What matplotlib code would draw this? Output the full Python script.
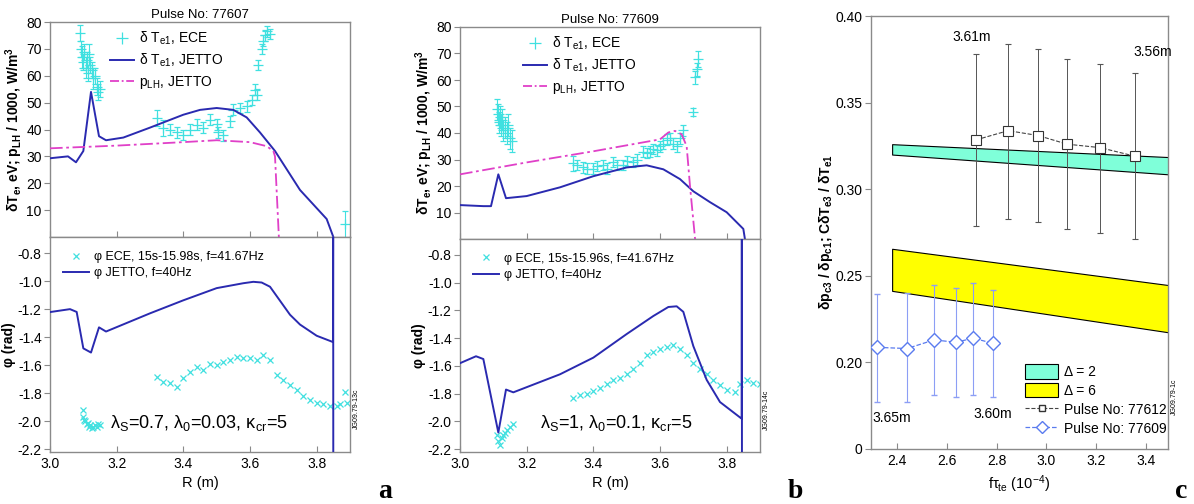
import matplotlib
matplotlib.use('Agg')
import matplotlib.pyplot as plt
from matplotlib.patches import Patch
from matplotlib.lines import Line2D

plt.rcParams['font.family'] = ['Liberation Sans', 'DejaVu Sans']
plt.rcParams['mathtext.default'] = 'regular'
plt.rcParams['axes.linewidth'] = 1.0

ECE_C = '#40E0E0'
JET_C = '#2A2AB0'
PLH_C = '#E040C8'
GRAY = '#8a8a8a'

# ---------------- Panel a (Pulse 77607) ----------------
a_jet_R = [3.0, 3.054, 3.078, 3.10, 3.123, 3.147, 3.168, 3.22, 3.30, 3.40, 3.45, 3.50, 3.55, 3.59, 3.63, 3.675, 3.75, 3.83, 3.853]
a_jet_T = [29.3, 30.0, 27.8, 32.0, 54.0, 37.5, 36.0, 37.0, 40.7, 45.5, 47.3, 48.0, 47.3, 44.5, 38.9, 32.0, 17.5, 6.7, -1.0]

a_plh_R = [3.0, 3.10, 3.20, 3.40, 3.50, 3.60, 3.65, 3.67, 3.675, 3.687]
a_plh_P = [33.0, 33.5, 34.0, 35.3, 36.0, 35.3, 33.8, 32.0, 30.0, -1.0]

a_ece_R = [3.090, 3.093, 3.097, 3.100, 3.103, 3.107, 3.110, 3.113, 3.117, 3.120, 3.125, 3.130, 3.135, 3.140, 3.145, 3.150,
           3.32, 3.34, 3.36, 3.38, 3.40, 3.42, 3.44, 3.46, 3.48, 3.50, 3.505, 3.52, 3.54,
           3.55, 3.57, 3.59, 3.605, 3.615, 3.62, 3.625, 3.635, 3.64, 3.645, 3.65, 3.66, 3.885]
a_ece_T = [76, 70, 67, 65, 69, 63, 66, 61, 68, 64, 62, 59, 60, 56, 54, 55,
           44.4, 40.7, 40.0, 39.0, 38.0, 40.0, 41.8, 40.7, 43.7, 41.9, 38.9, 37.8, 43.0,
           47.4, 48.0, 48.6, 51.0, 54.8, 53.0, 64.0, 70.0, 73.0, 75.0, 76.5, 75.5, 4.8]
a_ece_E = [3, 3, 4, 3, 3, 4, 3, 3, 4, 3, 3, 4, 3, 3, 3, 3,
           3, 3, 2, 2, 2, 2, 2, 2, 2, 2, 2, 2, 2,
           2, 2, 2, 2, 2, 2, 2, 2, 2, 2, 2, 2, 5]

a_phi_R = [3.0, 3.04, 3.06, 3.08, 3.10, 3.123, 3.147, 3.168, 3.30, 3.40, 3.50, 3.58, 3.61, 3.635, 3.66, 3.69, 3.72, 3.75, 3.80, 3.849, 3.8495, 3.850]
a_phi_V = [-1.221, -1.207, -1.20, -1.22, -1.48, -1.51, -1.33, -1.36, -1.23, -1.137, -1.05, -1.015, -1.005, -1.01, -1.04, -1.14, -1.24, -1.31, -1.39, -1.435, -0.5, -3.0]

a_phe_R = [3.098, 3.100, 3.103, 3.106, 3.110, 3.113, 3.117, 3.120, 3.125, 3.130, 3.135, 3.140, 3.145, 3.150,
           3.32, 3.34, 3.36, 3.38, 3.40, 3.42, 3.44, 3.46, 3.48, 3.50, 3.52, 3.54, 3.56, 3.58, 3.60, 3.62, 3.64, 3.66,
           3.68, 3.70, 3.72, 3.74, 3.76, 3.78, 3.80, 3.82, 3.84, 3.86, 3.87, 3.885, 3.89]
a_phe_V = [-1.92, -1.97, -1.99, -2.00, -2.02, -2.01, -2.04, -2.03, -2.05, -2.04, -2.03, -2.04, -2.02, -2.03,
           -1.684, -1.72, -1.73, -1.755, -1.69, -1.65, -1.61, -1.636, -1.59, -1.60, -1.576, -1.565, -1.54, -1.55, -1.55, -1.565, -1.53, -1.565,
           -1.67, -1.707, -1.74, -1.78, -1.82, -1.85, -1.87, -1.88, -1.895, -1.89, -1.88, -1.79, -1.87]

# ---------------- Panel b (Pulse 77609) ----------------
b_jet_R = [3.0, 3.07, 3.093, 3.115, 3.138, 3.20, 3.30, 3.40, 3.50, 3.56, 3.61, 3.66, 3.70, 3.75, 3.80, 3.85, 3.856]
b_jet_T = [12.8, 12.4, 12.4, 24.4, 15.4, 16.2, 19.5, 23.7, 27.0, 27.8, 26.3, 22.6, 18.0, 13.9, 10.1, 3.8, -1.0]

b_plh_R = [3.0, 3.20, 3.40, 3.60, 3.625, 3.645, 3.665, 3.68, 3.69, 3.706]
b_plh_P = [24.4, 28.9, 33.1, 37.6, 40.2, 40.8, 39.5, 35.0, 20.0, -1.0]

b_ece_R = [3.110, 3.113, 3.117, 3.120, 3.123, 3.127, 3.130, 3.135, 3.140, 3.145, 3.150, 3.155,
           3.34, 3.35, 3.37, 3.38, 3.40, 3.41, 3.43, 3.44, 3.46, 3.47, 3.49, 3.50, 3.52, 3.53,
           3.55, 3.56, 3.57, 3.58, 3.59, 3.60, 3.61, 3.62, 3.63, 3.64, 3.65, 3.66, 3.67,
           3.70, 3.705, 3.71, 3.715]
b_ece_T = [49, 47, 44, 46, 43, 45, 41, 42, 40, 43, 38, 37,
           28.5, 28.0, 27.0, 26.5, 26.5, 27.5, 28.0, 26.5, 29.0, 28.0, 28.0, 29.5, 29.0, 30.0,
           33.0, 32.5, 33.0, 34.0, 33.5, 35.0, 36.0, 37.5, 38.0, 36.0, 35.0, 38.0, 41.0,
           48.0, 61.0, 64.0, 68.0]
b_ece_E = [4, 4, 4, 4, 4, 4, 4, 4, 4, 4, 4, 4,
           3, 2, 2, 2, 2, 2, 2, 2, 2, 2, 2, 2, 2, 2,
           2, 2, 2, 2, 2, 2, 2, 2, 2, 2, 2, 2, 2,
           1.5, 2.5, 2.5, 3]

b_phi_R = [3.0, 3.048, 3.07, 3.115, 3.138, 3.16, 3.30, 3.40, 3.50, 3.58, 3.625, 3.65, 3.67, 3.70, 3.74, 3.78, 3.845, 3.8455, 3.846]
b_phi_V = [-1.58, -1.53, -1.55, -2.08, -1.77, -1.79, -1.66, -1.54, -1.37, -1.24, -1.175, -1.17, -1.21, -1.457, -1.70, -1.86, -1.98, -0.5, -3.0]

b_phe_R = [3.11, 3.115, 3.12, 3.125, 3.13, 3.135, 3.14, 3.15, 3.16,
           3.34, 3.36, 3.38, 3.40, 3.42, 3.44, 3.46, 3.48, 3.50, 3.52, 3.54, 3.56, 3.58, 3.60, 3.62, 3.64,
           3.66, 3.68, 3.70, 3.72, 3.74, 3.76, 3.78, 3.80, 3.825, 3.84, 3.86, 3.88, 3.90]
b_phe_V = [-2.10, -2.14, -2.17, -2.12, -2.10, -2.08, -2.06, -2.04, -2.02,
           -1.83, -1.81, -1.80, -1.78, -1.76, -1.73, -1.70, -1.69, -1.66, -1.62, -1.58, -1.52, -1.50, -1.48, -1.46, -1.45,
           -1.48, -1.52, -1.58, -1.62, -1.66, -1.70, -1.74, -1.77, -1.79, -1.73, -1.70, -1.72, -1.73]

# ---------------- Panel c ----------------
band_x = [2.38, 3.50]
d2_hi = [0.326, 0.3185]
d2_lo = [0.320, 0.3085]
d6_hi = [0.2656, 0.2445]
d6_lo = [0.2413, 0.2172]

p612_x = [2.718, 2.847, 2.967, 3.084, 3.217, 3.358]
p612_y = [0.3285, 0.3338, 0.331, 0.326, 0.324, 0.319]
p612_lo = [0.2786, 0.283, 0.281, 0.277, 0.275, 0.2715]
p612_hi = [0.378, 0.384, 0.381, 0.375, 0.3725, 0.367]

p609_x = [2.32, 2.44, 2.549, 2.637, 2.706, 2.786]
p609_y = [0.2087, 0.208, 0.213, 0.2116, 0.214, 0.211]
p609_lo = [0.177, 0.177, 0.181, 0.180, 0.181, 0.180]
p609_hi = [0.2396, 0.240, 0.2448, 0.243, 0.246, 0.242]

c_yticks = [0.15, 0.20, 0.25, 0.30, 0.35, 0.40]
c_yticklabels = ['0', '0.20', '0.25', '0.30', '0.35', '0.40']
c_xticks = [2.4, 2.6, 2.8, 3.0, 3.2, 3.4]

R_ticks = [3.0, 3.2, 3.4, 3.6, 3.8]
T_ticks = [10, 20, 30, 40, 50, 60, 70, 80]
phi_ticks = [-0.8, -1.0, -1.2, -1.4, -1.6, -1.8, -2.0, -2.2]

W, H = 1194, 504
fig = plt.figure(figsize=(W / 100, H / 100), dpi=100)


def fr(x0, y0, x1, y1):
    return [x0 / W, 1 - y1 / H, (x1 - x0) / W, (y1 - y0) / H]


def style(ax):
    for s in ax.spines.values():
        s.set_color(GRAY)
    ax.tick_params(axis='x', direction='in', colors=GRAY, labelcolor='black', labelsize=10, length=4)
    ax.tick_params(axis='y', direction='out', colors=GRAY, labelcolor='black', labelsize=10, length=4, pad=2)


def panel(x0, top, mid, bot, jR, jT, pR, pP, eR, eT, eE, fR, fV, gR, gV, title, tlabel, lam, jg, letter):
    axt = fig.add_axes(fr(x0, top, x0 + 300, mid))
    axb = fig.add_axes(fr(x0, mid, x0 + 300, bot))
    for ax in (axt, axb):
        style(ax)
        ax.set_xlim(3.0, 3.9)
        ax.set_xticks(R_ticks)
    axt.set_ylim(0, 80)
    axt.set_yticks(T_ticks)
    axt.tick_params(axis='x', labelbottom=False)
    axt.errorbar(eR, eT, yerr=eE, fmt='+', color=ECE_C, ms=7, mew=0.9, elinewidth=0.8, capsize=2.5, zorder=2)
    axt.plot(jR, jT, color=JET_C, lw=1.4, zorder=3)
    axt.plot(pR, pP, color=PLH_C, lw=1.3, ls=(0, (7, 2, 1.5, 2)), zorder=4)
    axt.set_title(title, fontsize=9.5, pad=3)
    axt.set_ylabel('δT$_e$, eV; p$_{LH}$ / 1000, W/m$^3$', fontsize=10, fontweight='bold', labelpad=1)
    h1 = [Line2D([], [], ls='none', marker='+', color=ECE_C, ms=8, mew=0.9),
          Line2D([], [], color=JET_C, lw=1.4),
          Line2D([], [], color=PLH_C, lw=1.3, ls=(0, (5, 1.5, 1, 1.5)))]
    axt.legend(h1, ['δ T$_{e1}$, ECE', 'δ T$_{e1}$, JETTO', 'p$_{LH}$, JETTO'],
               loc='upper left', bbox_to_anchor=tlabel, frameon=False, fontsize=10,
               handlelength=1.7, handletextpad=0.4, labelspacing=0.35, borderpad=0, borderaxespad=0)

    axb.set_ylim(-2.22, -0.685)
    axb.set_yticks(phi_ticks)
    axb.set_yticklabels(['-0.8', '-1.0', '-1.2', '-1.4', '-1.6', '-1.8', '-2.0', '-2.2'])
    axb.plot(gR, gV, ls='none', marker='x', color=ECE_C, ms=4.5, mew=0.9, zorder=2)
    axb.plot(fR, fV, color=JET_C, lw=1.4, zorder=3)
    axb.set_ylabel('φ (rad)', fontsize=10, fontweight='bold', labelpad=1)
    axb.set_xlabel('R (m)', fontsize=10.5, labelpad=4)
    h2 = [Line2D([], [], ls='none', marker='x', color=ECE_C, ms=5, mew=0.9),
          Line2D([], [], color=JET_C, lw=1.4)]
    axb.legend(h2, ['φ ECE, ' + lam[0], 'φ JETTO, f=40Hz'], loc='upper left',
               bbox_to_anchor=(0.043, 0.935), frameon=False, fontsize=9,
               handlelength=2.1, handletextpad=0.4, labelspacing=0.35, borderpad=0, borderaxespad=0)
    axb.text(lam[2], 0.135, lam[1], transform=axb.transAxes, fontsize=13, va='center', ha='left')
    axb.text(1.02, 0.2, jg, transform=axb.transAxes, fontsize=5, rotation=90, va='center', ha='center')
    fig.text((x0 + 335) / W, 1 - 492 / H, letter, fontsize=20, fontweight='bold',
             family='Liberation Serif', ha='center', va='center')
    return axt, axb


panel(50, 22, 237, 452, a_jet_R, a_jet_T, a_plh_R, a_plh_P, a_ece_R, a_ece_T, a_ece_E,
      a_phi_R, a_phi_V, a_phe_R, a_phe_V, 'Pulse No: 77607', (0.2, 0.965),
      ('15s-15.98s, f=41.67Hz', 'λ$_S$=0.7, λ$_0$=0.03, κ$_{cr}$=5', 0.2), 'JG09.79-13c', 'a')
panel(460, 27, 239, 452, b_jet_R, b_jet_T, b_plh_R, b_plh_P, b_ece_R, b_ece_T, b_ece_E,
      b_phi_R, b_phi_V, b_phe_R, b_phe_V, 'Pulse No: 77609', (0.21, 0.965),
      ('15s-15.96s, f=41.67Hz', 'λ$_S$=1, λ$_0$=0.1, κ$_{cr}$=5', 0.265), 'JG09.79-14c', 'b')

# ---- panel c ----
axc = fig.add_axes(fr(871, 16, 1168, 449))
style(axc)
axc.set_xlim(2.295, 3.49)
axc.set_ylim(0.15, 0.40)
axc.set_yticks(c_yticks)
axc.set_yticklabels(c_yticklabels)
axc.set_xticks(c_xticks)
axc.fill_between(band_x, d2_lo, d2_hi, facecolor='#7FFFD9', edgecolor='black', lw=0.8, zorder=1)
axc.fill_between(band_x, d6_lo, d6_hi, facecolor='#FFFF00', edgecolor='black', lw=0.8, zorder=1)
axc.errorbar(p612_x, p612_y,
             yerr=[[y - l for y, l in zip(p612_y, p612_lo)], [h - y for y, h in zip(p612_y, p612_hi)]],
             fmt='s--', color='#444444', ecolor='#555555', elinewidth=0.7, lw=0.8, capsize=2,
             ms=6.5, mfc='white', mec='#333333', mew=0.8, zorder=3)
axc.errorbar(p609_x, p609_y,
             yerr=[[y - l for y, l in zip(p609_y, p609_lo)], [h - y for y, h in zip(p609_y, p609_hi)]],
             fmt='D--', color='#5A7BEF', ecolor='#8C9EF5', elinewidth=0.8, lw=0.9, capsize=2,
             ms=7, mfc='white', mec='#5A7BEF', mew=1.0, zorder=3)
axc.text(2.70, 0.384, '3.61m', fontsize=10, ha='center', va='bottom')
axc.text(3.43, 0.375, '3.56m', fontsize=10, ha='center', va='bottom')
axc.text(2.38, 0.168, '3.65m', fontsize=10, ha='center', va='center')
axc.text(2.785, 0.170, '3.60m', fontsize=10, ha='center', va='center')
axc.set_xlabel('fτ$_{te}$ (10$^{-4}$)', fontsize=10.5, labelpad=4)
axc.set_ylabel('δp$_{c3}$ / δp$_{c1}$; CδT$_{e3}$ / δT$_{e1}$', fontsize=10, fontweight='bold')
axc.yaxis.set_label_coords(-0.12, 0.5)
hc = [Patch(facecolor='#7FFFD9', edgecolor='black', lw=0.8),
      Patch(facecolor='#FFFF00', edgecolor='black', lw=0.8),
      Line2D([], [], color='#444444', ls='--', lw=0.8, marker='s', ms=5, mfc='white', mec='#333333'),
      Line2D([], [], color='#5A7BEF', ls='--', lw=0.9, marker='D', ms=6.5, mfc='white', mec='#5A7BEF')]
axc.legend(hc, ['Δ = 2', 'Δ = 6', 'Pulse No: 77612', 'Pulse No: 77609'], loc='lower right',
           bbox_to_anchor=(0.995, 0.03), frameon=False, fontsize=10, handlelength=2.4, handleheight=1.2,
           handletextpad=0.4, labelspacing=0.3, borderpad=0, borderaxespad=0)
axc.text(1.02, 0.12, 'JG09.79-1c', transform=axc.transAxes, fontsize=5, rotation=90, va='center', ha='center')
fig.text(1181 / W, 1 - 492 / H, 'c', fontsize=20, fontweight='bold', family='Liberation Serif',
         ha='center', va='center')

fig.savefig('out.png', dpi=100)
